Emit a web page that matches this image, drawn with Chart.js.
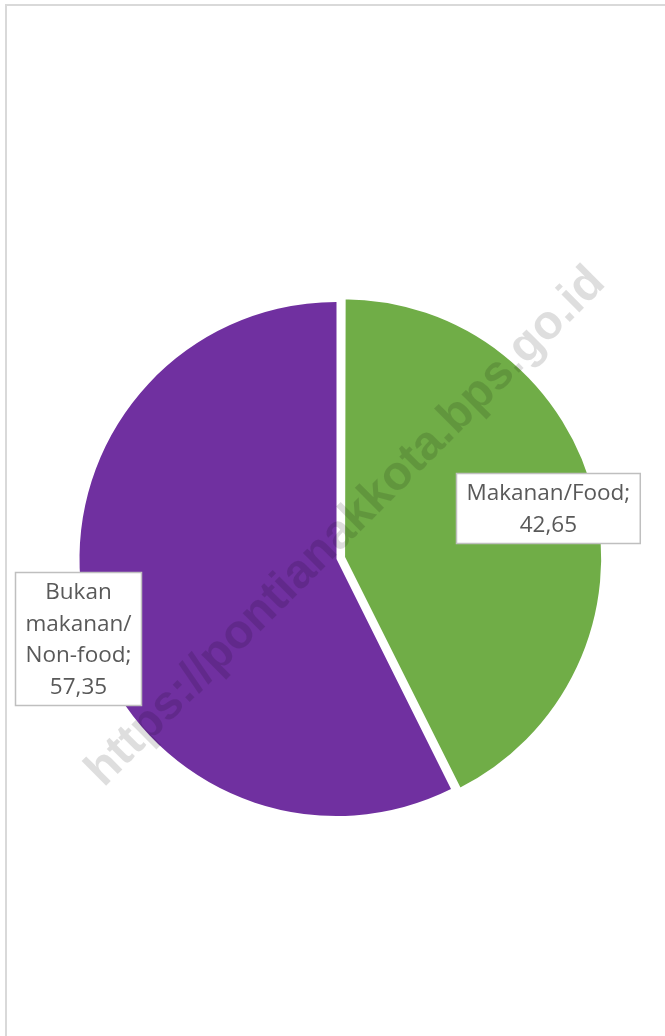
<!DOCTYPE html>
<html>
<head>
<meta charset="utf-8">
<script src="https://cdn.jsdelivr.net/npm/chart.js@4"></script>
<style>
  html, body { margin: 0; padding: 0; background: #fff; overflow: hidden; }
  #wrap { position: relative; width: 665px; height: 1036px; }
  #frame { position: absolute; left: 5px; top: 4px; width: 720px; height: 1100px;
           border: 2px solid #d9d9d9; pointer-events: none; }
  canvas { position: absolute; left: 0; top: 0; }
</style>
</head>
<body>
<div id="wrap">
  <canvas id="c" width="665" height="1036"></canvas>
  <div id="frame"></div>
</div>
<script>
// ---- data ----
const categories = ["Makanan/Food", "Bukan makanan/Non-food"];
const labelLines = [["Makanan/Food;", "42,65"], ["Bukan", "makanan/", "Non-food;", "57,35"]];
const shares = [42.65, 57.35];
const sliceColors = ["#70AD47", "#7030A0"];
const sliceOffsets = [26, 0];
const sliceBorders = [4.5, 0];
// label placement relative to each slice (fraction of radius, angle shift in degrees)
const labelRadius = [0.845, 1.05];
const labelAngleShift = [-0.4, -3.8];
const watermark = "https://pontianakkota.bps.go.id";

const labelPlugin = {
  id: 'boxLabels',
  afterDatasetsDraw(chart) {
    const ctx = chart.ctx;
    const meta = chart.getDatasetMeta(0);
    ctx.save();
    ctx.font = '22.5px "Open Sans"';
    const lh = 31.5, padX = 10, padY = 3.5;
    meta.data.forEach((arc, i) => {
      const p = arc.getProps(['x', 'y', 'startAngle', 'endAngle', 'outerRadius'], true);
      const mid = (p.startAngle + p.endAngle) / 2 + labelAngleShift[i] * Math.PI / 180;
      const r = p.outerRadius * labelRadius[i];
      const cx = p.x + Math.cos(mid) * r;
      const cy = p.y + Math.sin(mid) * r;
      const lines = labelLines[i];
      const w = Math.max(...lines.map(l => ctx.measureText(l).width)) + 2 * padX;
      const h = lines.length * lh + 2 * padY;
      const x0 = Math.round(cx - w / 2) + 0.5, y0 = Math.round(cy - h / 2) + 0.5;
      ctx.fillStyle = '#ffffff';
      ctx.fillRect(x0, y0, w, h);
      ctx.strokeStyle = '#bfbfbf';
      ctx.lineWidth = 1.5;
      ctx.strokeRect(x0, y0, w, h);
      ctx.fillStyle = '#595959';
      ctx.textAlign = 'center';
      ctx.textBaseline = 'middle';
      lines.forEach((l, k) => {
        ctx.fillText(l, x0 + w / 2, y0 + padY + lh * (k + 0.5) + 1);
      });
    });
    ctx.restore();
  },
  afterDraw(chart) {
    const ctx = chart.ctx;
    ctx.save();
    ctx.translate(346, 527);
    ctx.rotate(-Math.PI / 4);
    ctx.font = 'bold 48px "Liberation Sans"';
    ctx.fillStyle = 'rgba(0,0,0,0.13)';
    ctx.textAlign = 'center';
    ctx.textBaseline = 'middle';
    ctx.fillText(watermark, 0, 0);
    ctx.restore();
  }
};

new Chart(document.getElementById('c'), {
  type: 'pie',
  data: {
    labels: categories,
    datasets: [{
      data: shares,
      backgroundColor: sliceColors,
      borderColor: '#ffffff',
      borderWidth: sliceBorders,
      offset: sliceOffsets
    }]
  },
  options: {
    responsive: false,
    animation: false,
    radius: 257,
    layout: { padding: { left: 8, top: 82, right: 0, bottom: 0 } },
    plugins: { legend: { display: false }, tooltip: { enabled: false } }
  },
  plugins: [labelPlugin]
});
</script>
</body>
</html>
